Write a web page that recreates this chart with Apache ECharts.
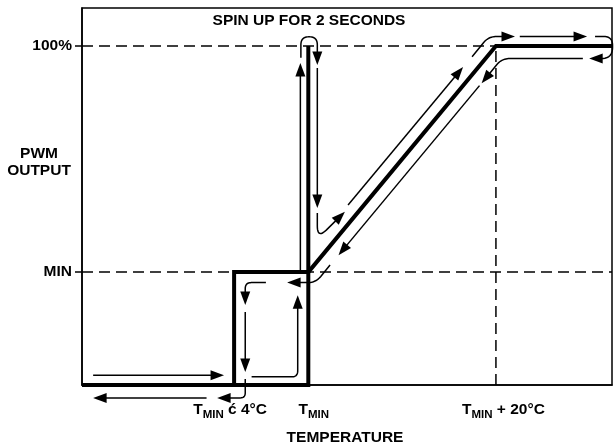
<!DOCTYPE html>
<html>
<head>
<meta charset="utf-8">
<script src="https://cdn.jsdelivr.net/npm/echarts@6/dist/echarts.min.js"></script>
<style>
  html, body { margin: 0; padding: 0; background: #fff; }
  #chart { width: 614px; height: 445px; }
</style>
</head>
<body>
<div id="chart"></div>
<script>
// Schematic axes: x is a relative temperature position (0..100), y is PWM output level.
const xTickValues = [28.7, 42.7, 78.1];
const xTickLabels = [
  ['T', 'MIN', ' ć 4°C'],
  ['T', 'MIN', ''],
  ['T', 'MIN', ' + 20°C']
];
const xLabelShift = [-4, 5.5, 7.5];
const yTickValues = [33.3, 100];
const yTickLabels = ['MIN', '100%'];

// Transfer curve (thick trace)
const offToSpinUp   = [[0, 0], [42.7, 0], [42.7, 100]];
const hysteresisBox = [[28.7, 0], [28.7, 33.3], [42.7, 33.3]];
const controlRamp   = [[42.7, 33.3], [78.1, 100], [100, 100]];

// Dashed reference levels
const guideFull    = [[0, 100], [100, 100]];
const guideMin     = [[0, 33.3], [100, 33.3]];
const guideRampEnd = [[78.1, 0], [78.1, 100]];

// Direction-of-travel arrows: vertices plus a corner radius (px)
const arrowsHeatingOff = [
  { pts: [[2.1, 2.9], [26.8, 2.9]], r: 0 },
  { pts: [[32.0, 2.4], [40.7, 2.4], [40.7, 26.5]], r: 6 }
];
const arrowsCoolingOff = [
  { pts: [[23.5, -3.8], [2.1, -3.8]], r: 0 },
  { pts: [[34.7, 30.2], [30.8, 30.2], [30.8, 23.6]], r: 6 },
  { pts: [[30.8, 21.5], [30.8, 3.8]], r: 0 },
  { pts: [[30.8, 1.8], [30.8, -3.8], [25.5, -3.8]], r: 5 }
];
const arrowsSpinUp = [
  { pts: [[41.2, 33.3], [41.2, 95.0]], r: 0 },
  { pts: [[41.3, 96.5], [41.3, 102.7], [44.4, 102.7], [44.4, 94.4]], r: 8 },
  { pts: [[44.4, 93.5], [44.4, 52.2]], r: 0 },
  { pts: [[44.4, 50.7], [44.4, 43.1], [49.6, 51.1]], r: 13 }
];
const arrowsRampUp = [
  { pts: [[50.2, 53.1], [71.9, 93.8]], r: 0 },
  { pts: [[73.6, 96.8], [76.7, 102.8], [81.7, 102.8]], r: 8 },
  { pts: [[82.6, 102.8], [95.3, 102.8]], r: 0 },
  { pts: [[96.8, 102.8], [100.1, 102.8], [100.1, 96.3], [95.7, 96.3]], r: 11 }
];
const arrowsRampDown = [
  { pts: [[94.5, 96.3], [79.2, 96.3], [75.4, 89.0]], r: 8 },
  { pts: [[75.0, 88.3], [48.4, 38.3]], r: 0 },
  { pts: [[46.8, 35.4], [44.1, 30.2], [38.7, 30.2]], r: 8 }
];
const arrowPaths = [].concat(arrowsHeatingOff, arrowsCoolingOff, arrowsSpinUp, arrowsRampUp, arrowsRampDown);

const FONT = '"Liberation Sans", Arial, Helvetica, sans-serif';

// Replace interior vertices with short quadratic bends
function roundCorners(pts, r) {
  const out = [pts[0]];
  for (let i = 1; i < pts.length - 1; i++) {
    const p0 = pts[i - 1], p1 = pts[i], p2 = pts[i + 1];
    const d1 = Math.hypot(p1[0] - p0[0], p1[1] - p0[1]);
    const d2 = Math.hypot(p2[0] - p1[0], p2[1] - p1[1]);
    const rr = Math.min(r, d1 / 2, d2 / 2);
    if (rr <= 0) { out.push(p1); continue; }
    const a = [p1[0] + (p0[0] - p1[0]) * rr / d1, p1[1] + (p0[1] - p1[1]) * rr / d1];
    const b = [p1[0] + (p2[0] - p1[0]) * rr / d2, p1[1] + (p2[1] - p1[1]) * rr / d2];
    out.push(a);
    for (let k = 1; k <= 12; k++) {
      const t = k / 12, u = 1 - t;
      out.push([u * u * a[0] + 2 * u * t * p1[0] + t * t * b[0],
                u * u * a[1] + 2 * u * t * p1[1] + t * t * b[1]]);
    }
  }
  out.push(pts[pts.length - 1]);
  return out;
}

function renderArrow(params, api) {
  const arrow = arrowPaths[params.dataIndex];
  const line = roundCorners(arrow.pts.map(p => api.coord(p)), arrow.r);
  const n = line.length;
  const tip = line[n - 1], prev = line[n - 2];
  let dx = tip[0] - prev[0], dy = tip[1] - prev[1];
  const len = Math.hypot(dx, dy); dx /= len; dy /= len;
  const hl = 13.5, hw = 5;
  const base = [tip[0] - dx * hl, tip[1] - dy * hl];
  line[n - 1] = [tip[0] - dx * hl * 0.7, tip[1] - dy * hl * 0.7];
  return {
    type: 'group',
    children: [
      { type: 'polyline', shape: { points: line },
        style: { stroke: '#000', lineWidth: 1.5, fill: 'none' } },
      { type: 'polygon',
        shape: { points: [tip, [base[0] - dy * hw, base[1] + dx * hw], [base[0] + dy * hw, base[1] - dx * hw]] },
        style: { fill: '#000', stroke: 'none' } }
    ]
  };
}

function nearestIndex(values, v) {
  let best = 0;
  values.forEach((x, i) => { if (Math.abs(x - v) < Math.abs(values[best] - v)) best = i; });
  return best;
}

// Rich-text styles for subscripted tick labels
const rich = { s: { fontFamily: FONT, fontWeight: 'bold', fontSize: 11.5, lineHeight: 12,
                    padding: [7, 0, 0, 0], verticalAlign: 'top', color: '#000' } };
xLabelShift.forEach((sh, i) => {
  const base = { fontFamily: FONT, fontWeight: 'bold', fontSize: 15.5, lineHeight: 17,
                 verticalAlign: 'top', color: '#000' };
  rich['h' + i] = Object.assign({}, base, { padding: [0, 0, 0, Math.max(0, 2 * sh)] });
  rich['e' + i] = Object.assign({}, base, { padding: [0, Math.max(0, -2 * sh), 0, 0] });
});

const dashed = { color: '#000', width: 1.5, type: [11, 6] };
function lineSeries(data, style, z) {
  return { type: 'line', data: data, symbol: 'none', showSymbol: false, clip: false,
           silent: true, z: z, lineStyle: style };
}
const thick = { color: '#000', width: 4, join: 'miter', cap: 'butt' };

const chart = echarts.init(document.getElementById('chart'), null, { renderer: 'canvas' });
chart.setOption({
  animation: false,
  backgroundColor: '#fff',
  grid: { left: 82, right: 2, top: 8, bottom: 60, show: true, borderColor: '#000',
          borderWidth: 1.5, containLabel: false, outerBoundsMode: 'none' },
  xAxis: {
    type: 'value', min: 0, max: 100,
    splitLine: { show: false },
    axisLine: { show: true, lineStyle: { color: '#000', width: 1.5 } },
    axisTick: { show: false },
    axisLabel: {
      customValues: xTickValues,
      margin: 17,
      formatter: function (v) {
        const i = nearestIndex(xTickValues, v);
        const lab = xTickLabels[i];
        let s = '{h' + i + '|' + lab[0] + '}{s|' + lab[1] + '}';
        if (lab[2]) s += '{e' + i + '|' + lab[2] + '}';
        return s;
      },
      rich: rich
    },
    name: 'TEMPERATURE',
    nameLocation: 'middle',
    nameGap: 52.5,
    nameMoveOverlap: false,
    nameTextStyle: { fontFamily: FONT, fontWeight: 'bold', fontSize: 15.5, color: '#000',
                     verticalAlign: 'middle', padding: [0, 4, 0, 0] }
  },
  yAxis: {
    type: 'value', min: 0, max: 111.2,
    splitLine: { show: false },
    axisLine: { show: true, lineStyle: { color: '#000', width: 1.5 } },
    axisTick: { show: true, customValues: yTickValues, length: 7, lineStyle: { color: '#000', width: 1.5 } },
    axisLabel: {
      customValues: yTickValues,
      margin: 10,
      fontFamily: FONT, fontWeight: 'bold', fontSize: 15.5, color: '#000',
      formatter: function (v) { return yTickLabels[nearestIndex(yTickValues, v)]; }
    }
  },
  graphic: [
    { type: 'text', x: 309, y: 21.2, silent: true,
      style: { text: 'SPIN UP FOR 2 SECONDS', fontFamily: FONT, fontWeight: 'bold', fontSize: 15.5,
               fill: '#000', align: 'center', verticalAlign: 'middle' } },
    { type: 'text', x: 39, y: 162, silent: true,
      style: { text: 'PWM\nOUTPUT', fontFamily: FONT, fontWeight: 'bold', fontSize: 15.5,
               lineHeight: 16.5, fill: '#000', align: 'center', verticalAlign: 'middle' } }
  ],
  series: [
    lineSeries(guideFull, dashed, 1),
    lineSeries(guideMin, dashed, 1),
    lineSeries(guideRampEnd, dashed, 1),
    lineSeries(offToSpinUp, thick, 3),
    lineSeries(hysteresisBox, thick, 3),
    lineSeries(controlRamp, thick, 3),
    {
      type: 'custom', silent: true, z: 4, clip: false,
      renderItem: renderArrow,
      data: arrowPaths.map((a, i) => i)
    }
  ]
});
</script>
</body>
</html>
